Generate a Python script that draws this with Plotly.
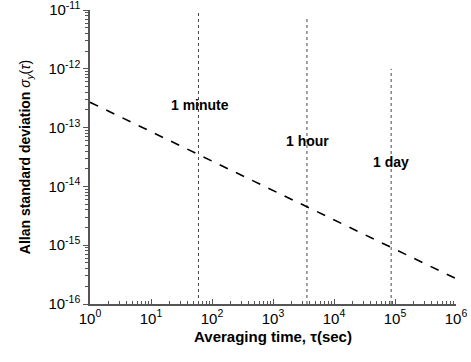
import math
import plotly.graph_objects as go

tau = [1, 10, 100, 1e3, 1e4, 1e5, 1e6]
sigma = [2.7e-13, 8.5e-14, 2.7e-14, 8.5e-15, 2.7e-15, 8.5e-16, 2.7e-16]

marker_tau = [60, 3600, 86400]
marker_top = [1e-11, 7e-12, 1e-12]
marker_bottom = 1e-16
labels = ["1 minute", "1 hour", "1 day"]
label_x = [63, 3700, 87000]
label_y = [2.4e-13, 5.9e-14, 2.6e-14]

xtick_vals = [1, 10, 100, 1e3, 1e4, 1e5, 1e6]
xtick_text = ["10<sup>0</sup>", "10<sup>1</sup>", "10<sup>2</sup>", "10<sup>3</sup>",
              "10<sup>4</sup>", "10<sup>5</sup>", "10<sup>6</sup>"]
ytick_vals = [1e-16, 1e-15, 1e-14, 1e-13, 1e-12, 1e-11]
ytick_text = ["10<sup>-16</sup>", "10<sup>-15</sup>", "10<sup>-14</sup>",
              "10<sup>-13</sup>", "10<sup>-12</sup>", "10<sup>-11</sup>"]

fig = go.Figure()
for t, top in zip(marker_tau, marker_top):
    fig.add_trace(go.Scatter(x=[t, t], y=[marker_bottom, top], mode="lines",
                             line=dict(color="#444444", width=1, dash="dot"),
                             showlegend=False, hoverinfo="skip"))
fig.add_trace(go.Scatter(x=tau, y=sigma, mode="lines",
                         line=dict(color="black", width=1.6, dash="dash"),
                         showlegend=False))

for lx, ly, txt in zip(label_x, label_y, labels):
    fig.add_annotation(x=math.log10(lx), y=math.log10(ly), text="<b>" + txt + "</b>",
                       showarrow=False, font=dict(size=14, color="black",
                                                  family="Liberation Sans, Arial"))

axis_font = dict(family="Liberation Sans, Arial", size=15, color="black")
fig.update_xaxes(type="log", range=[0, 6], tickvals=xtick_vals, ticktext=xtick_text,
                 showgrid=False, zeroline=False, showline=True, linecolor="#555555",
                 linewidth=1.5, ticks="inside", ticklen=5, tickcolor="#555555",
                 tickwidth=1, tickfont=axis_font, automargin=False,
                 ticklabeloverflow="allow",
                 minor=dict(ticks="inside", ticklen=3, tickcolor="#555555", dtick="D1",
                            showgrid=False),
                 title=dict(text="<b>Averaging time, τ(sec)</b>", standoff=6,
                            font=dict(family="Liberation Sans, Arial", size=15, color="black")))
fig.update_yaxes(type="log", range=[-16, -11], tickvals=ytick_vals, ticktext=ytick_text,
                 showgrid=False, zeroline=False, showline=True, linecolor="#555555",
                 linewidth=1.5, ticks="outside", ticklen=5, tickcolor="#555555",
                 tickwidth=1, tickfont=axis_font, automargin=False,
                 ticklabeloverflow="allow",
                 minor=dict(ticks="outside", ticklen=3, tickcolor="#555555", dtick="D1",
                            showgrid=False),
                 title=dict(text="<b>Allan standard deviation</b> <i>σ<sub>y</sub></i>(<i>τ</i>)",
                            standoff=14,
                            font=dict(family="Liberation Sans, Arial", size=14, color="black")))

fig.update_layout(width=471, height=362, margin=dict(l=90, r=15, t=10, b=58),
                  plot_bgcolor="white", paper_bgcolor="white")
fig.write_html("out.html", config={"displayModeBar": False},
               post_script="document.body.style.margin='0';")
